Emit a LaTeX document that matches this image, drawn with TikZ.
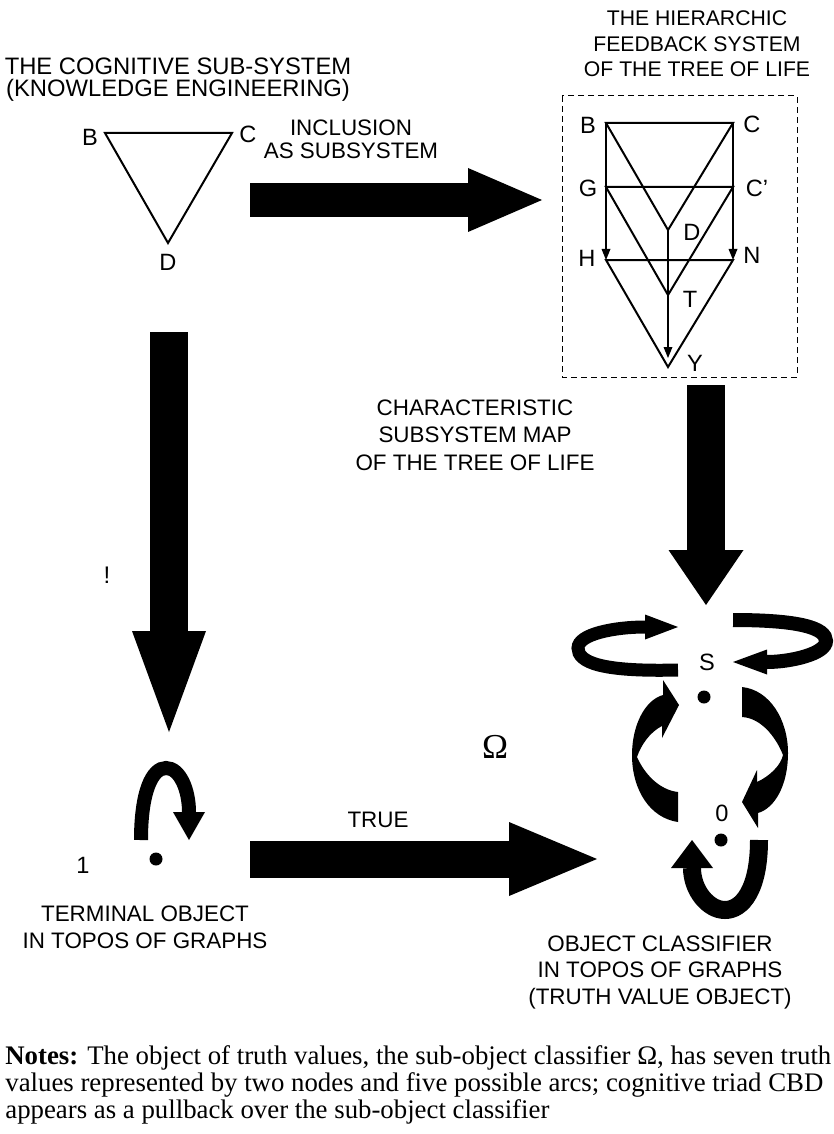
\documentclass[tikz,border=0pt]{standalone}
\usepackage{fontspec}
\setmainfont{Liberation Sans}
\newfontfamily\notesfont{Liberation Serif}
\usetikzlibrary{arrows.meta, calc, positioning}

\tikzset{
  lbl/.style={font=\fontsize{11.2}{13}\selectfont, align=center, inner sep=0pt},
  vtx/.style={font=\fontsize{11.8}{13}\selectfont, inner sep=0pt},
  treeline/.style={line width=1pt},
  treearrow/.style={line width=1pt, -{Triangle[width=4.5pt,length=5.5pt,line width=0pt]}},
  bigarrow/.style n args={3}{line width=#1, line cap=butt, -{Triangle[width=#2,length=#3,line width=0pt]}},
  swirl/.style n args={3}{line width=#1, line cap=butt, -{Triangle[width=#2,length=#3,line width=0pt]}},
  notes/.style={font=\notesfont\fontsize{13.4}{15}\selectfont, inner sep=0pt, anchor=base west},
}

\begin{document}
\begin{tikzpicture}[x=0.5pt, y=-0.5pt]
    \useasboundingbox (0,0) rectangle (834,1134);
    % titles
    \node[lbl, font=\fontsize{11.9}{11}\selectfont] (titleL) at (178,80) {THE COGNITIVE SUB-SYSTEM\\(KNOWLEDGE ENGINEERING)};
    \node[lbl, font=\fontsize{10.6}{12.75}\selectfont] (titleR) at (697,44) {THE HIERARCHIC\\FEEDBACK SYSTEM\\OF THE TREE OF LIFE};
    % cognitive triad
    \coordinate (cB) at (105,133);
    \coordinate (cC) at (232,133);
    \coordinate (cD) at (168,243);
    \draw[treeline] (cB) -- (cC) -- (cD) -- cycle;
    \node[vtx] (lcB) at (90,137) {B};
    \node[vtx] (lcC) at (248,134) {C};
    \node[vtx] (lcD) at (168,262) {D};
    % tree of life
    \draw[dashed, line width=0.5pt, dash pattern=on 3pt off 2pt] (562,96) rectangle (797,377);
    \foreach \n/\x/\y in {tB/606/123, tC/733/123, tG/606/187, tCp/733/187, tD/668/230,
                          tH/606/260, tN/733/260, tT/668/295, tY/668/367} {
        \coordinate (\n) at (\x,\y);
    }
    \draw[treeline] (tB) -- (tC) -- (tD) -- cycle;
    \draw[treeline] (tG) -- (tCp) -- (tT) -- cycle;
    \draw[treeline] (tH) -- (tN) -- (tY) -- cycle;
    \draw[treearrow] (tB) -- (tH);
    \draw[treearrow] (tC) -- (tN);
    \draw[treearrow, shorten >=4.5pt] (tD) -- (tY);
    \foreach \n/\x/\y/\t in {ltB/588/125/B, ltC/752/124/C, ltG/588/188/G, ltCp/757/188/C’,
                             ltD/692/232/D, ltH/587/258/H, ltN/752/255/N, ltT/690/299/T, ltY/695/363/Y} {
        \node[vtx] (\n) at (\x,\y) {\t};
    }
    % big arrows
    \coordinate (incS) at (250,200);
    \coordinate (incE) at (542,200);
    \draw[bigarrow={17pt}{32pt}{37pt}] (incS) -- (incE);
    \node[lbl, font=\fontsize{11.2}{11.5}\selectfont] (incl) at (351,139) {INCLUSION\\AS SUBSYSTEM};
    \coordinate (bangS) at (169,332);
    \coordinate (bangE) at (169,732);
    \draw[bigarrow={19pt}{37pt}{50.5pt}] (bangS) -- (bangE);
    \node[lbl, font=\fontsize{12}{13}\selectfont] (bang) at (107,575) {!};
    \coordinate (charS) at (706,385);
    \coordinate (charE) at (706,605);
    \draw[bigarrow={19pt}{37.5pt}{27.5pt}] (charS) -- (charE);
    \node[lbl, font=\fontsize{11.2}{13.75}\selectfont] (charmap) at (475,435) {CHARACTERISTIC\\SUBSYSTEM MAP\\OF THE TREE OF LIFE};
    \coordinate (trueS) at (250,859);
    \coordinate (trueE) at (597,859);
    \draw[bigarrow={18.5pt}{37pt}{44pt}] (trueS) -- (trueE);
    \node[lbl] (true) at (378,820) {TRUE};
    % terminal object
    \node[vtx] (one) at (83,865) {1};
    \fill (156,859) circle (6.5) coordinate (oneDot);
    \coordinate (oneA) at (141,840);
    \coordinate (oneB) at (189,840);
    \draw[swirl={7pt}{16pt}{14pt}] (oneA) .. controls (141,792) and (152,768) .. (166,768)
        .. controls (180,768) and (189,790) .. (oneB);
    \node[lbl, font=\fontsize{11.2}{13.5}\selectfont] (termL) at (145,927) {TERMINAL OBJECT\\IN TOPOS OF GRAPHS};
    % truth value object
    \node[font=\notesfont\fontsize{17.5}{18}\selectfont, inner sep=0pt] (omega) at (495,747) {Ω};
    \node[vtx] (S) at (707,662) {S};
    \node[vtx] (zero) at (722,813) {0};
    \fill (704,697) circle (6.5) coordinate (sDot);
    \fill (721,840) circle (6.5) coordinate (zDot);
    % loops at S
    \draw[swirl={6.5pt}{12.5pt}{16.5pt}] (678,670) .. controls (600,672) and (578,662) .. (578,648)
        .. controls (578,634) and (615,627) .. (678,627);
    \draw[swirl={7pt}{12.5pt}{17pt}] (733,620) .. controls (800,620) and (826,628) .. (826,641)
        .. controls (826,654) and (790,662) .. (733,662);
    % arcs between S and 0
    \fill (678,822) .. controls (650,818) and (632,790) .. (632,755) .. controls (632,725) and (645,700) .. (663,695)
        -- (663,680) -- (679,705) -- (662,738) -- (662,726)
        .. controls (650,732) and (641,745) .. (637,757) .. controls (645,775) and (660,790) .. (678,792) -- cycle;
    \fill (742,687) .. controls (770,690) and (788,720) .. (788,753) .. controls (788,785) and (775,808) .. (758,813)
        -- (758,828) -- (742,802) -- (757,770) -- (757,782)
        .. controls (770,776) and (781,765) .. (783,755) .. controls (775,735) and (760,718) .. (742,717) -- cycle;
    % loop at 0
    \draw[swirl={9pt}{21pt}{14pt}] (759,840) .. controls (759,890) and (742,910) .. (725,910)
        .. controls (708,910) and (692,890) .. (692,840);
    \node[lbl, font=\fontsize{11.2}{13.25}\selectfont] (classL) at (660,972) {OBJECT CLASSIFIER\\IN TOPOS OF GRAPHS\\(TRUTH VALUE OBJECT)};
    % notes
    \node[notes] (n1) at (5,1064) {\textbf{Notes:} The object of truth values, the sub-object classifier Ω, has seven truth};
    \node[notes] (n2) at (5,1091) {values represented by two nodes and five possible arcs; cognitive triad CBD};
    \node[notes] (n3) at (5,1118) {appears as a pullback over the sub-object classifier};
\end{tikzpicture}
\end{document}
